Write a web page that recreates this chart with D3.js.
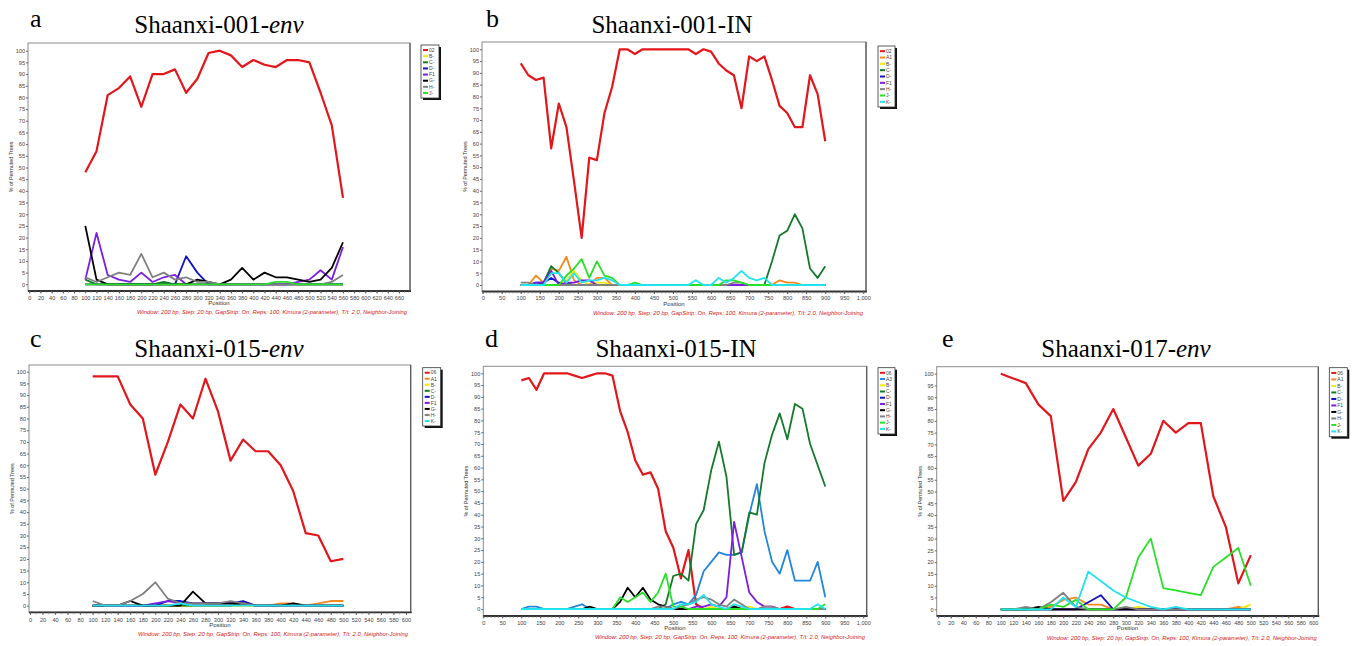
<!DOCTYPE html>
<html>
<head>
<meta charset="utf-8">
<script src="https://cdn.jsdelivr.net/npm/d3@7"></script>
<style>
  body { margin: 0; background: #fff; }
  svg { display: block; }
</style>
</head>
<body>
<div id="chart"></div>
<script>
// bootscan results, % of permuted trees per window position

// panel a: Shaanxi-001-env
const posA = [100,120,140,160,180,200,220,240,260,280,300,320,340,360,380,400,420,440,460,480,500,520,540,560];
const a02 = [48,57,81,84,89,76,90,90,92,82,88,99,100,98,93,96,94,93,96,96,95,82,68,37];
const aB  = [0,0,0,0,0,0,0,0,0,0,0,0,0,0,0,0,0,0,0,0,0,0,0,0];
const aC  = [2,0,0,0,0,0,0,1,0,0,0,0,0,0,0,0,0,0,0,0,0,0,0,0];
const aD  = [0,0,0,0,0,0,0,0,0,12,5,0,0,0,0,0,0,0,0,0,0,0,0,0];
const aF1 = [2,22,4,2,1,5,1,3,4,0,0,0,0,0,0,0,0,0,0,1,2,6,2,16];
const aG  = [25,2,0,0,0,0,0,0,0,0,2,1,0,2,7,2,5,3,3,2,1,2,7,18];
const aH  = [3,1,3,5,4,13,3,5,2,3,1,1,0,0,0,0,0,0,0,0,0,0,1,4];
const aJ  = [0,0,0,0,0,0,0,0,0,0,0,0,0,0,0,0,0,1,1,0,0,0,0,0];

// panel b: Shaanxi-001-IN
const posB = [100,120,140,160,180,200,220,240,260,280,300,320,340,360,380,400,420,440,460,480,500,520,540,560,580,600,620,640,660,680,700,720,740,760,780,800,820,840,860,880,900];
const b02 = [94,89,87,88,58,77,67,44,20,54,53,73,84,100,100,98,100,100,100,100,100,100,100,98,100,99,94,91,89,75,97,95,97,87,76,73,67,67,89,81,61];
const bA1 = [0,0,4,1,7,6,12,2,0,0,3,3,0,0,0,0,0,0,0,0,0,0,0,0,0,0,0,0,0,0,0,0,0,0,2,1,1,0,0,0,0];
const bB  = [0,0,0,0,0,0,2,6,2,0,1,1,0,0,0,0,0,0,0,0,0,0,0,0,0,0,0,0,0,0,0,0,0,0,0,0,0,0,0,0,0];
const bC  = [0,0,0,1,8,5,1,0,0,0,0,0,0,0,0,0,0,0,0,0,0,0,0,0,0,0,0,0,0,0,0,0,0,10,21,23,30,24,7,3,8];
const bD  = [0,0,1,1,3,1,0,0,0,0,0,0,0,0,0,0,0,0,0,0,0,0,0,0,0,0,0,0,0,0,0,0,0,0,0,0,0,0,0,0,0];
const bF1 = [0,0,1,1,6,0,1,1,2,2,0,0,0,0,0,0,0,0,0,0,0,0,0,0,0,0,0,0,0,0,0,0,0,0,0,0,0,0,0,0,0];
const bH  = [1,1,0,0,0,0,0,0,0,0,0,0,0,0,0,0,0,0,0,0,0,0,0,0,0,0,0,0,1,1,0,0,0,0,0,0,0,0,0,0,0];
const bJ  = [0,0,0,0,0,0,4,7,11,3,10,4,3,0,0,1,0,0,0,0,0,0,0,0,0,0,0,2,2,1,0,0,0,0,0,0,0,0,0,0,0];
const bK  = [0,0,0,0,5,5,1,5,1,2,2,3,2,0,0,0,0,0,0,0,0,0,0,2,0,0,3,1,3,6,3,2,3,0,0,0,0,0,0,0,0];

// panel c: Shaanxi-015-env
const posC = [100,120,140,160,180,200,220,240,260,280,300,320,340,360,380,400,420,440,460,480,500];
const c06 = [98,98,98,86,80,56,70,86,80,97,83,62,71,66,66,60,49,31,30,19,20];
const cA1 = [0,0,0,0,0,0,0,0,0,0,0,0,0,0,0,1,1,0,1,2,2];
const cB  = [0,0,0,0,0,0,0,0,0,0,0,0,0,0,0,0,0,0,0,0,0];
const cC  = [0,0,0,0,0,0,0,0,0,0,0,0,1,0,0,0,0,0,0,0,0];
const cD  = [0,0,0,0,0,0,2,2,1,1,1,1,2,0,0,0,0,0,0,0,0];
const cF1 = [0,0,0,0,0,1,2,1,1,1,1,1,1,0,0,0,0,0,0,0,0];
const cG  = [0,0,0,2,0,0,0,0,6,1,1,1,1,0,0,0,1,0,0,0,0];
const cH  = [2,0,0,2,5,10,3,1,1,1,1,2,1,0,0,0,0,0,0,0,0];
const cK  = [0,0,0,0,0,0,0,1,0,0,0,0,0,0,0,0,0,0,0,0,0];

// panel d: Shaanxi-015-IN
const posD = posB;
const d06 = [97,98,93,100,100,100,100,99,98,99,100,100,99,84,75,63,57,58,51,33,26,13,25,2,0,0,0,0,1,0,0,0,0,0,0,1,0,0,0,0,0];
const dA3 = [0,1,1,0,0,0,0,1,2,0,0,0,0,0,0,0,0,0,0,0,2,3,2,6,16,20,24,23,23,24,40,53,33,20,15,25,12,12,12,20,5];
const dB  = [0,0,0,0,0,0,0,0,0,0,0,0,0,0,0,0,0,0,0,0,0,0,0,0,0,1,0,0,0,0,1,0,0,0,0,0,0,0,0,0,0];
const dC  = [0,0,0,0,0,0,0,0,0,0,0,0,0,0,0,0,0,0,0,2,14,15,12,36,42,59,71,56,23,24,41,40,62,74,83,72,87,85,70,61,52];
const dD  = [0,0,0,0,0,0,0,0,0,0,0,0,0,0,0,0,0,0,0,0,0,0,0,0,0,0,0,0,0,0,0,0,0,0,0,0,0,0,0,0,0];
const dF1 = [0,0,0,0,0,0,0,0,0,0,0,0,0,0,0,0,0,0,0,0,0,0,0,1,1,2,1,5,37,22,7,3,1,1,0,0,0,0,0,0,0];
const dG  = [0,0,0,0,0,0,0,0,0,1,0,0,0,3,9,5,9,4,2,1,0,0,0,0,0,0,0,0,1,0,0,0,0,0,0,0,0,0,0,0,0];
const dH  = [0,0,0,0,0,0,0,0,0,0,0,0,0,0,0,0,0,0,1,1,0,1,2,4,5,4,2,1,4,2,0,0,1,1,0,0,0,0,0,0,0];
const dJ  = [0,0,0,0,0,0,0,0,0,0,0,0,0,5,3,5,7,3,7,15,1,1,0,0,0,0,0,0,0,0,0,0,0,0,0,0,0,0,0,0,2];
const dK  = [0,0,0,0,0,0,0,0,0,0,0,0,0,0,0,0,0,0,0,0,0,2,2,3,6,2,1,0,2,1,0,0,0,0,0,0,0,0,0,2,0];

// panel e: Shaanxi-017-env
const posE = posC;
const e06 = [100,98,96,87,82,46,54,68,75,85,73,61,66,80,75,79,79,48,35,11,23];
const eA1 = [0,0,0,0,1,4,5,2,2,0,0,0,0,0,0,0,0,0,0,1,0];
const eB  = [0,0,0,0,0,0,0,0,0,0,0,1,0,0,0,0,0,0,0,0,2];
const eC  = [0,0,0,0,0,0,0,0,0,0,0,0,0,0,0,0,0,0,0,0,0];
const eD  = [0,0,0,0,0,0,0,3,6,0,0,0,0,0,0,0,0,0,0,0,0];
const eF1 = [0,0,0,0,0,0,0,0,0,0,0,0,0,0,0,0,0,0,0,0,0];
const eG  = [0,0,0,1,0,0,0,0,0,0,0,0,0,0,0,0,0,0,0,0,0];
const eH  = [0,0,1,0,3,7,1,0,0,0,1,0,0,0,0,0,0,0,0,0,0];
const eJ  = [0,0,0,0,2,1,4,0,0,0,5,22,30,9,8,7,6,18,22,26,10];
const eK  = [0,0,0,0,0,5,1,16,12,8,5,3,1,0,1,0,0,0,0,0,0];

const yTicks = [0,5,10,15,20,25,30,35,40,45,50,55,60,65,70,75,80,85,90,95,100];
const FOOTER = "Window: 200 bp, Step: 20 bp, GapStrip: On, Reps: 100, Kimura (2-parameter), T/t: 2.0, Neighbor-Joining";

const COL = {
  q:  "#e2161b",
  A1: "#f5891e",
  A3: "#2186de",
  B:  "#eeea12",
  C:  "#137a2b",
  D:  "#1212c4",
  F1: "#7a1ee0",
  G:  "#000000",
  H:  "#808080",
  J:  "#27e027",
  K:  "#22e2ee"
};

const panels = [
  { letter: "a", title: "Shaanxi-001-", titleIt: "env", tx: 219, ty: 33, lx: 30, ly: 27,
    frame: [28, 43, 410, 291], xr: [0, 660, 29.3, 399], yr: [50.7, 284.3], xTicks: d3.range(0, 661, 20), minor: 10,
    tickY: 298, posY: 305, foot: [407, 314], legend: [421, 45, 18, 53],
    pos: posA,
    series: [["02", COL.q, a02], ["B-", COL.B, aB], ["C-", COL.C, aC], ["D-", COL.D, aD],
             ["F1", COL.F1, aF1], ["G-", COL.G, aG], ["H-", COL.H, aH], ["J-", COL.J, aJ]] },
  { letter: "b", title: "Shaanxi-001-IN", titleIt: "", tx: 672, ty: 33, lx: 486, ly: 27,
    frame: [482, 42, 866, 291.5], xr: [0, 1000, 482.7, 863.3], yr: [49.3, 285], xTicks: d3.range(0, 1001, 50), minor: 10,
    tickY: 298.5, posY: 305.5, foot: [863, 315], legend: [878, 46, 17, 61],
    pos: posB,
    series: [["02", COL.q, b02], ["A1", COL.A1, bA1], ["B-", COL.B, bB], ["C-", COL.C, bC], ["D-", COL.D, bD],
             ["F1", COL.F1, bF1], ["H-", COL.H, bH], ["J-", COL.J, bJ], ["K-", COL.K, bK]] },
  { letter: "c", title: "Shaanxi-015-", titleIt: "env", tx: 219, ty: 356.5, lx: 30, ly: 347,
    frame: [29, 365, 410.7, 612.3], xr: [0, 600, 30, 406], yr: [371.7, 605.7], xTicks: d3.range(0, 601, 20), minor: 10,
    tickY: 619.7, posY: 627, foot: [408, 636], legend: [422.7, 367.7, 18, 58.3],
    pos: posC,
    series: [["06", COL.q, c06], ["A1", COL.A1, cA1], ["B-", COL.B, cB], ["C-", COL.C, cC], ["D-", COL.D, cD],
             ["F1", COL.F1, cF1], ["G-", COL.G, cG], ["H-", COL.H, cH], ["K-", COL.K, cK]] },
  { letter: "d", title: "Shaanxi-015-IN", titleIt: "", tx: 676, ty: 356.5, lx: 485, ly: 347,
    frame: [483.3, 366.3, 866.7, 616], xr: [0, 1000, 483.3, 863.3], yr: [373.3, 609], xTicks: d3.range(0, 1001, 50), minor: 10,
    tickY: 622.7, posY: 629.5, foot: [865, 639], legend: [878, 367.7, 17, 66.3],
    pos: posD,
    series: [["06", COL.q, d06], ["A3", COL.A3, dA3], ["B-", COL.B, dB], ["C-", COL.C, dC], ["D-", COL.D, dD],
             ["F1", COL.F1, dF1], ["G-", COL.G, dG], ["H-", COL.H, dH], ["J-", COL.J, dJ], ["K-", COL.K, dK]] },
  { letter: "e", title: "Shaanxi-017-", titleIt: "env", tx: 1126, ty: 356.5, lx: 942, ly: 347,
    frame: [936.7, 366.7, 1318.3, 616], xr: [0, 600, 938.3, 1313.3], yr: [373.7, 609.3], xTicks: d3.range(0, 601, 20), minor: 10,
    tickY: 622.7, posY: 630, foot: [1316.7, 640], legend: [1329.3, 367.7, 18, 69],
    pos: posE,
    series: [["06", COL.q, e06], ["A1", COL.A1, eA1], ["B-", COL.B, eB], ["C-", COL.C, eC], ["D-", COL.D, eD],
             ["F1", COL.F1, eF1], ["G-", COL.G, eG], ["H-", COL.H, eH], ["J-", COL.J, eJ], ["K-", COL.K, eK]] }
];

const svg = d3.select("#chart").append("svg")
  .attr("width", 1360)
  .attr("height", 646);

svg.append("rect").attr("width", 1360).attr("height", 646).attr("fill", "#fff");

function drawPanel(p) {
  const g = svg.append("g");
  const [fx0, fy0, fx1, fy1] = p.frame;

  const x = d3.scaleLinear().domain([p.xr[0], p.xr[1]]).range([p.xr[2], p.xr[3]]);
  const y = d3.scaleLinear().domain([100, 0]).range(p.yr);

  // panel letter + title
  g.append("text")
    .attr("x", p.lx).attr("y", p.ly)
    .attr("font-family", "Liberation Serif, Times New Roman, serif")
    .attr("font-size", 26)
    .text(p.letter);

  const t = g.append("text")
    .attr("x", p.tx).attr("y", p.ty)
    .attr("text-anchor", "middle")
    .attr("font-family", "Liberation Serif, Times New Roman, serif")
    .attr("font-size", 25);
  t.append("tspan").text(p.title);
  if (p.titleIt) t.append("tspan").attr("font-style", "italic").text(p.titleIt);

  // plot frame
  g.append("rect")
    .attr("x", fx0).attr("y", fy0)
    .attr("width", fx1 - fx0).attr("height", fy1 - fy0)
    .attr("fill", "#fff")
    .attr("stroke", "#8a8a8a")
    .attr("stroke-width", 1);
  // darker bottom axis line
  g.append("line")
    .attr("x1", fx0).attr("x2", fx1 + 1).attr("y1", fy1).attr("y2", fy1)
    .attr("stroke", "#333").attr("stroke-width", 1.8);
  g.append("line")
    .attr("x1", fx1).attr("x2", fx1).attr("y1", fy0).attr("y2", fy1)
    .attr("stroke", "#555").attr("stroke-width", 1.2);

  // y axis
  const yAxis = d3.axisLeft(y).tickValues(yTicks).tickSize(2).tickPadding(1);
  const ya = g.append("g")
    .attr("transform", `translate(${fx0},0)`)
    .call(yAxis);
  ya.select(".domain").remove();
  ya.selectAll("line").attr("stroke", "#666");
  ya.selectAll("text")
    .attr("font-family", "Liberation Sans, Arial, sans-serif")
    .attr("font-size", 5.6)
    .attr("fill", "#444");

  // x axis minor ticks
  const minorTicks = d3.range(p.xr[0], x.invert(fx1) + 0.01, p.minor);
  g.append("g").selectAll("line")
    .data(minorTicks)
    .join("line")
    .attr("x1", d => x(d)).attr("x2", d => x(d))
    .attr("y1", fy1).attr("y2", fy1 + 2)
    .attr("stroke", "#777").attr("stroke-width", 0.6);

  const xAxis = d3.axisBottom(x).tickValues(p.xTicks).tickSize(2.5).tickPadding(1)
    .tickFormat(d => d >= 1000 ? d3.format(",")(d) : d);
  const xa = g.append("g")
    .attr("transform", `translate(0,${fy1})`)
    .call(xAxis);
  xa.select(".domain").remove();
  xa.selectAll("line").attr("stroke", "#555");
  xa.selectAll("text")
    .attr("y", p.tickY - fy1 - 2)
    .attr("dy", "0.71em")
    .attr("font-family", "Liberation Sans, Arial, sans-serif")
    .attr("font-size", 5.6)
    .attr("fill", "#444");

  // axis titles
  g.append("text")
    .attr("x", (fx0 + fx1) / 2).attr("y", p.posY)
    .attr("text-anchor", "middle")
    .attr("font-family", "Liberation Sans, Arial, sans-serif")
    .attr("font-size", 6)
    .attr("fill", "#333")
    .text("Position");

  g.append("text")
    .attr("transform", `translate(${fx0 - 15},${(fy0 + fy1) / 2}) rotate(-90)`)
    .attr("text-anchor", "middle")
    .attr("font-family", "Liberation Sans, Arial, sans-serif")
    .attr("font-size", 5.4)
    .attr("fill", "#333")
    .text("% of Permuted Trees");

  // lines
  const line = d3.line()
    .x((d, i) => x(p.pos[i]))
    .y(d => y(d));

  p.series.forEach(([name, color, vals], k) => {
    g.append("path")
      .datum(vals)
      .attr("fill", "none")
      .attr("stroke", color)
      .attr("stroke-width", k === 0 ? 2.2 : 1.8)
      .attr("stroke-linejoin", "round")
      .attr("d", line);
  });

  // footer
  g.append("text")
    .attr("x", p.foot[0]).attr("y", p.foot[1])
    .attr("text-anchor", "end")
    .attr("font-family", "Liberation Sans, Arial, sans-serif")
    .attr("font-style", "italic")
    .attr("font-size", 6)
    .attr("fill", "#d42020")
    .attr("textLength", 270)
    .attr("lengthAdjust", "spacingAndGlyphs")
    .text(FOOTER);

  // legend
  const [lx, ly, lw, lh] = p.legend;
  g.append("rect")
    .attr("x", lx + 2).attr("y", ly + 2)
    .attr("width", lw).attr("height", lh)
    .attr("fill", "#111");
  g.append("rect")
    .attr("x", lx).attr("y", ly)
    .attr("width", lw).attr("height", lh)
    .attr("fill", "#fff")
    .attr("stroke", "#333")
    .attr("stroke-width", 0.8);
  const step = (lh - 4) / p.series.length;
  const items = g.append("g").selectAll("g")
    .data(p.series)
    .join("g")
    .attr("transform", (d, i) => `translate(${lx + 2},${ly + 2 + step * (i + 0.5)})`);
  items.append("line")
    .attr("x1", 0).attr("x2", 5)
    .attr("stroke", d => d[1])
    .attr("stroke-width", 2);
  items.append("text")
    .attr("x", 6).attr("dy", "0.35em")
    .attr("font-family", "Liberation Sans, Arial, sans-serif")
    .attr("font-size", 5)
    .attr("fill", "#444")
    .text(d => d[0]);
}

panels.forEach(drawPanel);
</script>
</body>
</html>
